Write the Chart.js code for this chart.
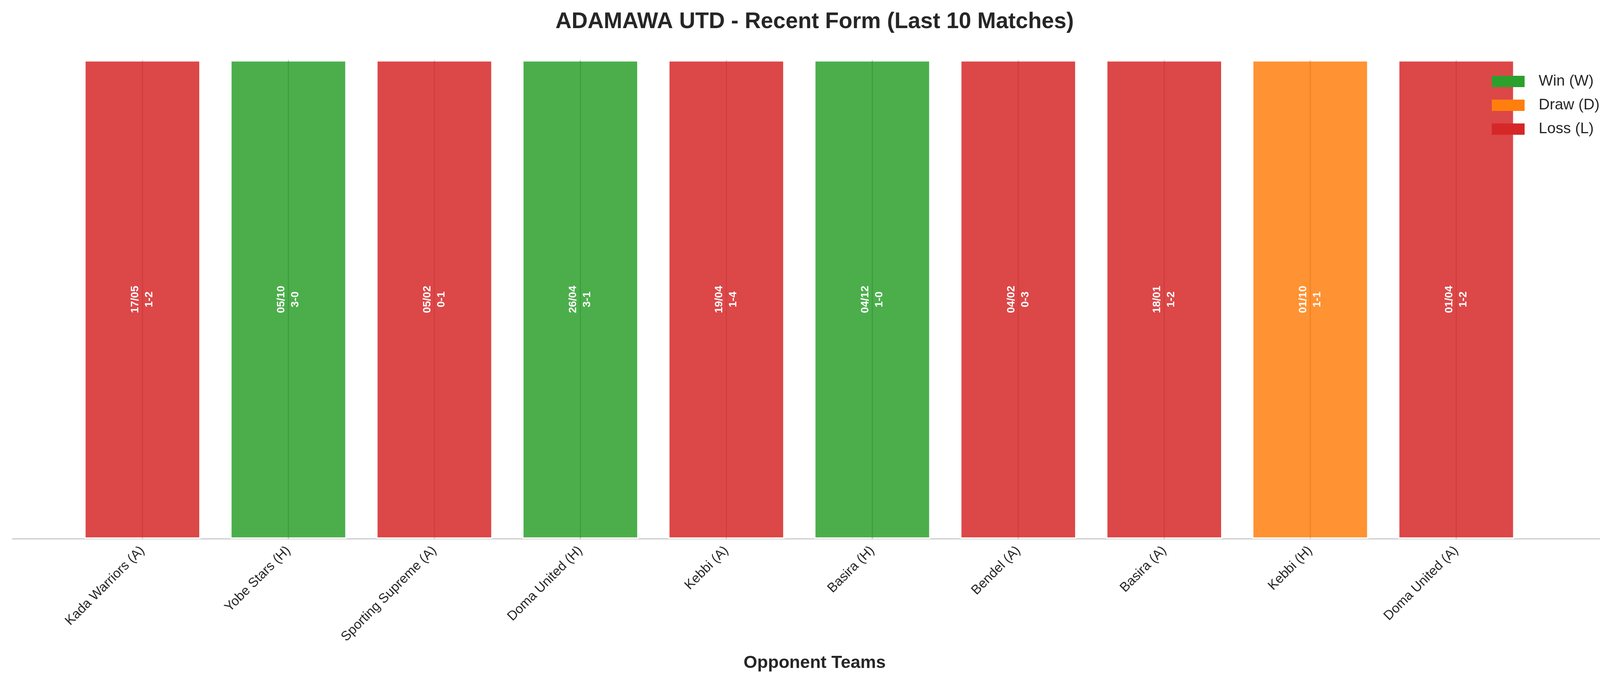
<!DOCTYPE html>
<html>
<head>
<meta charset="utf-8">
<title>Recent Form</title>
<script src="https://cdn.jsdelivr.net/npm/chart.js"></script>
<style>
  body { margin: 0; background: #fff; }
  canvas { display: block; }
</style>
</head>
<body>
<canvas id="c" width="4170" height="1769"></canvas>
<script>
const opponents = ['Kada Warriors (A)', 'Yobe Stars (H)', 'Sporting Supreme (A)', 'Doma United (H)', 'Kebbi (A)',
                   'Basira (H)', 'Bendel (A)', 'Basira (A)', 'Kebbi (H)', 'Doma United (A)'];
const results = ['L', 'W', 'L', 'W', 'L', 'W', 'L', 'L', 'D', 'L'];
const dates = ['17/05', '05/10', '05/02', '26/04', '19/04', '04/12', '04/02', '18/01', '01/10', '01/04'];
const scores = ['1-2', '3-0', '0-1', '3-1', '1-4', '1-0', '0-3', '1-2', '1-1', '1-2'];

const resultColors = { W: '#2ca02c', D: '#ff7f0e', L: '#d62728' };
const resultNames = { W: 'Win (W)', D: 'Draw (D)', L: 'Loss (L)' };

function alpha(hex, a) {
  const n = parseInt(hex.slice(1), 16);
  return `rgba(${n >> 16},${(n >> 8) & 255},${n & 255},${a})`;
}

const font = "'Liberation Sans', Arial, sans-serif";

// bar labels + a thin center line, and the legend inside the plot
const overlay = {
  id: 'overlay',
  afterDatasetsDraw(chart) {
    const ctx = chart.ctx;
    const meta = chart.getDatasetMeta(0);
    meta.data.forEach((bar, i) => {
      ctx.save();
      ctx.strokeStyle = 'rgba(180,30,30,0.25)';
      if (results[i] === 'W') ctx.strokeStyle = 'rgba(30,120,30,0.3)';
      if (results[i] === 'D') ctx.strokeStyle = 'rgba(200,100,10,0.3)';
      ctx.lineWidth = 3;
      ctx.beginPath();
      ctx.moveTo(bar.x, bar.y);
      ctx.lineTo(bar.x, bar.base);
      ctx.stroke();
      const midY = (bar.y + bar.base) / 2;
      ctx.translate(bar.x, midY);
      ctx.rotate(-Math.PI / 2);
      ctx.fillStyle = '#fff';
      ctx.font = `bold 28px ${font}`;
      ctx.textAlign = 'center';
      ctx.textBaseline = 'middle';
      ctx.fillText(dates[i], 0, -18);
      ctx.fillText(scores[i], 0, 18);
      ctx.restore();
    });
    // legend
    const keys = ['W', 'D', 'L'];
    ctx.save();
    ctx.font = `39px ${font}`;
    ctx.textBaseline = 'middle';
    keys.forEach((k, j) => {
      const y = 208 + j * 61;
      ctx.fillStyle = resultColors[k];
      ctx.fillRect(3819, y - 14, 84, 29);
      ctx.fillStyle = '#262626';
      ctx.fillText(resultNames[k], 3939, y);
    });
    ctx.restore();
  }
};

new Chart(document.getElementById('c'), {
  type: 'bar',
  data: {
    datasets: [{
      data: opponents.map((o, i) => ({ x: i, y: 1 })),
      backgroundColor: results.map(r => alpha(resultColors[r], 0.85)),
      borderColor: 'rgba(255,255,255,0.85)',
      borderWidth: 4,
      borderSkipped: false,
      barPercentage: 0.8,
      categoryPercentage: 1.0
    }]
  },
  options: {
    responsive: false,
    animation: false,
    layout: { padding: { left: 32, right: 31, top: 0, bottom: 40 } },
    plugins: {
      legend: { display: false },
      tooltip: { enabled: false },
      title: {
        display: true,
        text: 'ADAMAWA UTD - Recent Form (Last 10 Matches)',
        color: '#262626',
        font: { family: font, size: 57, weight: 'bold' },
        padding: { top: 22, bottom: 63 }
      }
    },
    scales: {
      x: {
        type: 'linear',
        min: -0.89,
        max: 10.10,
        offset: false,
        grid: { display: false, drawTicks: false },
        border: { display: true, color: '#cccccc', width: 3 },
        afterBuildTicks(axis) { axis.ticks = opponents.map((o, i) => ({ value: i })); },
        ticks: {
          autoSkip: false,
          maxRotation: 45,
          minRotation: 45,
          padding: 10,
          color: '#262626',
          font: { family: font, size: 34 },
          callback: v => opponents[v]
        },
        title: {
          display: true,
          text: 'Opponent Teams',
          color: '#262626',
          font: { family: font, size: 45, weight: 'bold' },
          padding: { top: 10 }
        }
      },
      y: {
        min: 0,
        max: 1,
        display: false
      }
    }
  },
  plugins: [overlay]
});
</script>
</body>
</html>
